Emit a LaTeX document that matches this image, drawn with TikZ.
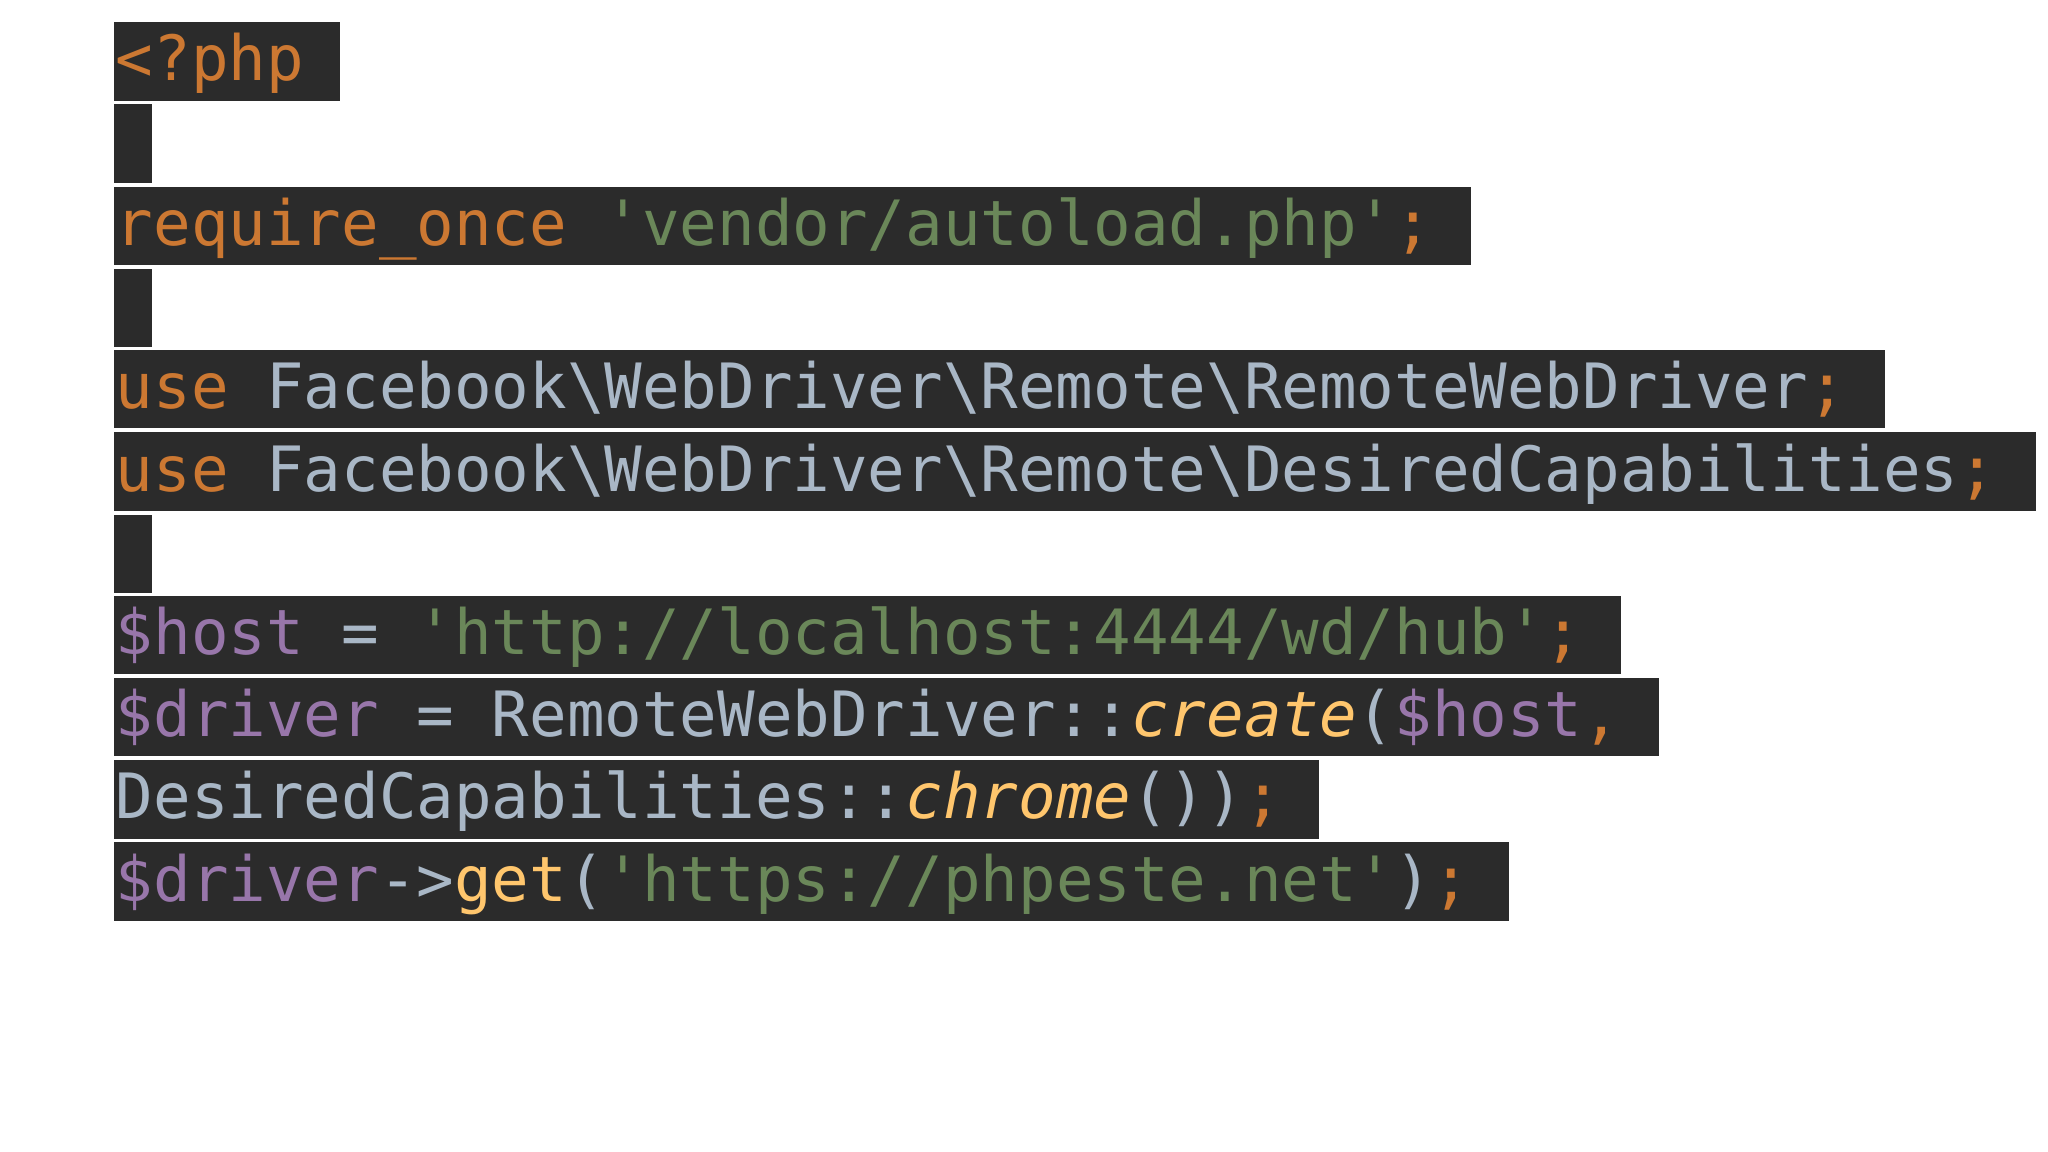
\documentclass[tikz,border=0pt]{standalone}
\usepackage{fontspec}
\setmonofont{DejaVu Sans Mono}
\definecolor{bgc}{HTML}{2B2B2B}
\definecolor{kw}{HTML}{CC7832}
\definecolor{st}{HTML}{6A8759}
\definecolor{tx}{HTML}{A9B7C6}
\definecolor{vr}{HTML}{9876AA}
\definecolor{fn}{HTML}{FFC66D}
\newcommand{\K}[1]{\textcolor{kw}{#1}}
\newcommand{\Sx}[1]{\textcolor{st}{#1}}
\newcommand{\V}[1]{\textcolor{vr}{#1}}
\newcommand{\F}[1]{\textcolor{fn}{#1}}
\newcommand{\FI}[1]{\textcolor{fn}{\itshape #1}}
\begin{document}
\begin{tikzpicture}[x=0.01cm,y=-0.01cm,
  code/.style={anchor=base west,inner sep=0pt,font=\ttfamily\fontsize{13.6}{14}\selectfont,text=tx}]
\useasboundingbox[fill=white] (0,0) rectangle (1568,882);
\foreach \t/\r in {17/260,80/116,143/1126,206/116,268/1443,331/1559,394/116,456/1241,519/1270,582/1010,645/1155}
  \fill[bgc] (87,\t) rectangle (\r,\t+60);
\node[code] (l1) at (88,62) {\K{<?php}};
\node[code] (l3) at (88,188) {\K{require\_once} \Sx{'vendor/autoload.php'}\K{;}};
\node[code] (l5) at (88,313) {\K{use} Facebook\textbackslash WebDriver\textbackslash Remote\textbackslash RemoteWebDriver\K{;}};
\node[code] (l6) at (88,376) {\K{use} Facebook\textbackslash WebDriver\textbackslash Remote\textbackslash DesiredCapabilities\K{;}};
\node[code] (l8) at (88,501) {\V{\$host} = \Sx{'http://localhost:4444/wd/hub'}\K{;}};
\node[code] (l9) at (88,564) {\V{\$driver} = RemoteWebDriver::\FI{create}(\V{\$host}\K{,}};
\node[code] (l10) at (88,627) {DesiredCapabilities::\FI{chrome}())\K{;}};
\node[code] (l11) at (88,690) {\V{\$driver}->\F{get}(\Sx{'https://phpeste.net'})\K{;}};
\end{tikzpicture}
\end{document}
